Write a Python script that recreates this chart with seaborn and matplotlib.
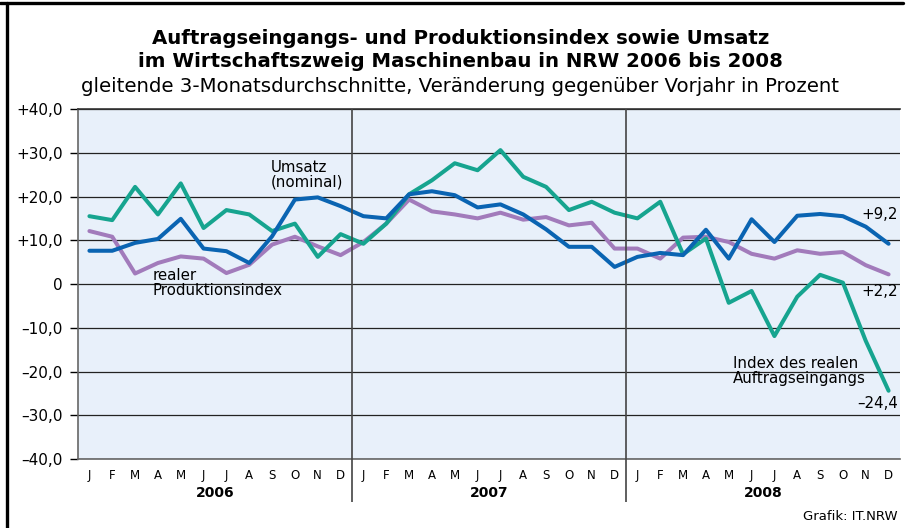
import matplotlib
matplotlib.use("Agg")
import matplotlib.pyplot as plt
import matplotlib.lines as mlines
import numpy as np
import pandas as pd
import seaborn as sns

# values (% change vs. previous year, 3-month moving avg)
months = ["J", "F", "M", "A", "M", "J", "J", "A", "S", "O", "N", "D"]
years = ["2006", "2007", "2008"]

auftrag = [15.5, 14.6, 22.2, 15.9, 23.0, 12.8, 16.9, 15.9, 12.1, 13.8, 6.2, 11.4,
           9.2, 13.8, 20.5, 23.7, 27.6, 26.0, 30.6, 24.5, 22.2, 16.9, 18.8, 16.3,
           15.0, 18.8, 6.8, 10.4, -4.3, -1.6, -11.9, -2.9, 2.1, 0.3, -13.0, -24.4]
umsatz = [7.6, 7.6, 9.4, 10.3, 14.9, 8.1, 7.5, 4.8, 10.9, 19.3, 19.8, 17.8,
          15.5, 15.0, 20.5, 21.2, 20.3, 17.5, 18.2, 15.9, 12.5, 8.5, 8.5, 3.9,
          6.2, 7.1, 6.6, 12.4, 5.8, 14.8, 9.6, 15.6, 16.0, 15.5, 13.1, 9.2]
produktion = [12.1, 10.8, 2.4, 4.8, 6.3, 5.8, 2.5, 4.4, 9.0, 10.8, 8.6, 6.6,
              9.6, 13.8, 19.3, 16.6, 15.9, 15.0, 16.3, 14.7, 15.3, 13.4, 14.0, 8.1,
              8.1, 5.8, 10.6, 10.8, 9.6, 6.9, 5.8, 7.7, 6.9, 7.3, 4.3, 2.2]

yticks = [40, 30, 20, 10, 0, -10, -20, -30, -40]
ytick_labels = ["+40,0", "+30,0", "+20,0", "+10,0", "0",
                "\u201310,0", "\u201320,0", "\u201330,0", "\u201340,0"]

series_names = ["Produktion", "Auftrag", "Umsatz"]
colors = {"Produktion": "#a27bbb", "Auftrag": "#16a48f", "Umsatz": "#0a64b2"}

n = len(umsatz)
df = pd.DataFrame({
    "t": list(range(n)) * 3,
    "wert": produktion + auftrag + umsatz,
    "reihe": ["Produktion"] * n + ["Auftrag"] * n + ["Umsatz"] * n,
})

sns.set_style("white")
plt.rcParams["font.family"] = ["DejaVu Sans"]
plt.rcParams["text.color"] = "black"
plt.rcParams["xtick.color"] = "black"
plt.rcParams["ytick.color"] = "black"

fig = plt.figure(figsize=(9.06, 5.28), dpi=100)
ax = fig.add_axes([78 / 906, 69 / 528, 822 / 906, 350 / 528])
ax.set_facecolor("#e8f0fa")

sns.lineplot(data=df, x="t", y="wert", hue="reihe", hue_order=series_names,
             palette=colors, linewidth=2.9, legend=False, ax=ax, zorder=3)

ax.set_xlim(-0.5, n - 0.5)
ax.set_ylim(-40, 40)
ax.set_xlabel("")
ax.set_ylabel("")

# y axis
ax.set_yticks(yticks)
ax.set_yticklabels(ytick_labels, fontsize=11)
ax.tick_params(axis="y", length=6, width=1, colors="black", pad=5, left=True)
ax.yaxis.grid(True, color="#222", linewidth=0.9)
ax.xaxis.grid(False)
ax.set_axisbelow(True)

# x axis: month letters, year labels, year dividers
ax.set_xticks(range(n))
ax.set_xticklabels(months * len(years), fontsize=8.5)
ax.tick_params(axis="x", length=0, pad=7, bottom=True, colors="black")
for i, yr in enumerate(years):
    ax.text(12 * i + 5.5, -0.097, yr, transform=ax.get_xaxis_transform(),
            ha="center", va="center", fontsize=10, fontweight="bold")
ax.vlines([11.5, 23.5], -49.8, 40, color="#444", linewidth=1.2, clip_on=False, zorder=4)

ax.spines["right"].set_visible(False)
ax.spines["top"].set_color("#333")
ax.spines["left"].set_color("#666")
ax.spines["bottom"].set_color("#666")
for side in ["top", "left", "bottom"]:
    ax.spines[side].set_linewidth(1.2)

# line labels
lbl = dict(fontsize=10.8, linespacing=1.0)
ax.text(7.95, 25.0, "Umsatz\n(nominal)", ha="left", va="center", **lbl)
ax.text(2.75, 0.2, "realer\nProduktionsindex", ha="left", va="center", **lbl)
ax.text(28.2, -19.9, "Index des realen\nAuftragseingangs", ha="left", va="center", **lbl)
ax.text(35.4, 15.8, "+9,2", ha="right", va="center", **lbl)
ax.text(35.4, -1.8, "+2,2", ha="right", va="center", **lbl)
ax.text(35.4, -27.2, "\u201324,4", ha="right", va="center", **lbl)

# titles
fig.text(0.508, 0.928, "Auftragseingangs- und Produktionsindex sowie Umsatz",
         ha="center", va="center", fontsize=14.2, fontweight="bold")
fig.text(0.508, 0.883, "im Wirtschaftszweig Maschinenbau in NRW 2006 bis 2008",
         ha="center", va="center", fontsize=14.2, fontweight="bold")
fig.text(0.508, 0.837,
         "gleitende 3-Monatsdurchschnitte, Ver\u00e4nderung gegen\u00fcber Vorjahr in Prozent",
         ha="center", va="center", fontsize=14.2)
fig.text(898 / 906, 1 - 516 / 528, "Grafik: IT.NRW", ha="right", va="center",
         fontsize=9.5)

# outer frame (top and left edges)
fig.add_artist(mlines.Line2D([0, 903 / 906], [1 - 3 / 528, 1 - 3 / 528],
                             transform=fig.transFigure, color="black", linewidth=2.4))
fig.add_artist(mlines.Line2D([7 / 906, 7 / 906], [0, 1 - 3 / 528],
                             transform=fig.transFigure, color="black", linewidth=2.4))

fig.savefig("out.png", dpi=100)
